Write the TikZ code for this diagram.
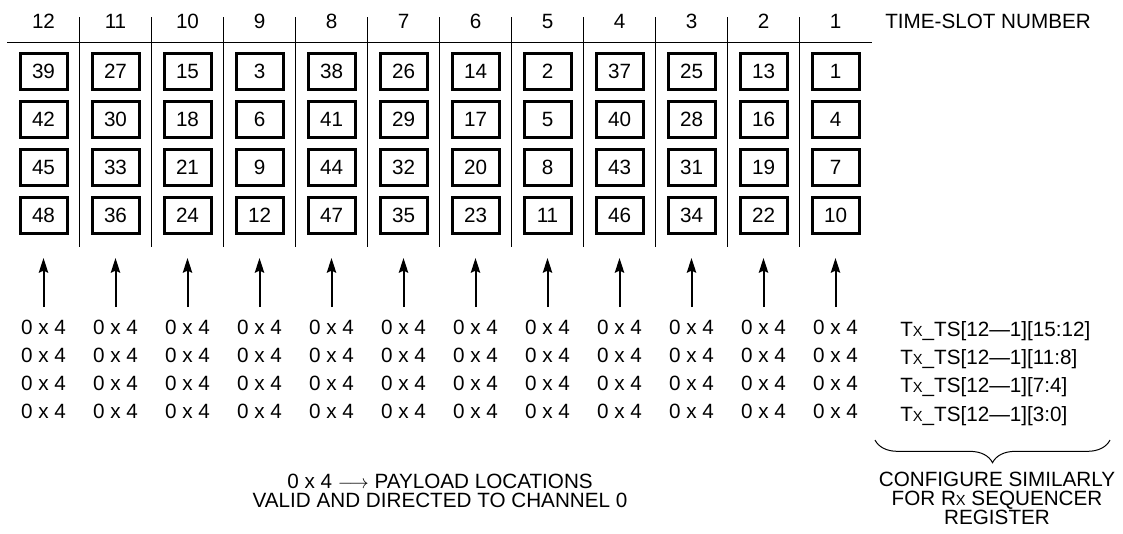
\documentclass[tikz,border=0pt]{standalone}
\usepackage{fontspec}
\setmainfont{Liberation Sans}
\usetikzlibrary{arrows.meta,decorations.pathreplacing}
\newcommand{\lbl}{\fontsize{15.5}{14.25}\selectfont}
\newcommand{\smallx}{{\fontsize{11}{11}\selectfont X}}
\tikzset{
  >={Stealth[length=11pt,width=7pt,inset=1.5pt]},
  slotbox/.style={draw,line width=2.25pt,minimum width=35.25pt,minimum height=27pt,
    inner sep=0pt,font=\lbl},
  txt/.style={anchor=base,inner sep=0pt,font=\lbl},
  sep/.style={line width=0.75pt},
  feed/.style={->,line width=1.5pt,shorten >=17.25pt},
}
\begin{document}
\begin{tikzpicture}[x=0.75pt,y=-0.75pt]
  \useasboundingbox (0,0) rectangle (1123,533);
  % header rule and slot separators
  \draw[sep] (7,42.5) -- (872,42.5);
  \foreach \k in {0,...,10} \draw[sep] ({79.5+72*\k},17) -- ({79.5+72*\k},247);
  % time slots, payload boxes and register values
  \foreach \s in {1,...,12}{
    \pgfmathsetmacro\cx{43.5+72*(12-\s)}
    \node[txt] (h\s) at (\cx,28) {\s};
    \foreach \r in {1,...,4}{
      \pgfmathtruncatemacro\v{1+floor((\s-1)/4)+12*mod(\s-1,4)+3*(\r-1)}
      \node[slotbox] (b\s-\r) at (\cx,{71.5+48*(\r-1)}) {\v};
      \node[txt] (v\s-\r) at (\cx,{334+28.2*(\r-1)}) {0 x 4};
    }
    \coordinate (tail\s) at (\cx,307);
    \draw[feed] (tail\s) -- (b\s-4.south);
  }
  \node[txt,anchor=base west] (slots) at (885,28) {TIME-SLOT NUMBER};
  \foreach \r/\bits in {1/15:12,2/11:8,3/7:4,4/3:0}
    \node[txt,anchor=base west] (reg\r) at (900,{336.5+28.2*(\r-1)}) {T\smallx\_TS[12—1][\bits]};
  % brace and notes
  \coordinate (braceL) at (875,440);
  \coordinate (braceR) at (1110,440);
  \draw[line width=0.75pt,decorate,decoration={brace,mirror,amplitude=17pt}] (braceL) -- (braceR);
  \node[txt,align=center] (rxnote) at (997,524) {CONFIGURE SIMILARLY\\FOR R\smallx{} SEQUENCER\\REGISTER};
  \node[txt,align=center] (legend) at (440,507) {0 x 4 $\longrightarrow$ PAYLOAD LOCATIONS\\VALID AND DIRECTED TO CHANNEL 0};
\end{tikzpicture}
\end{document}
